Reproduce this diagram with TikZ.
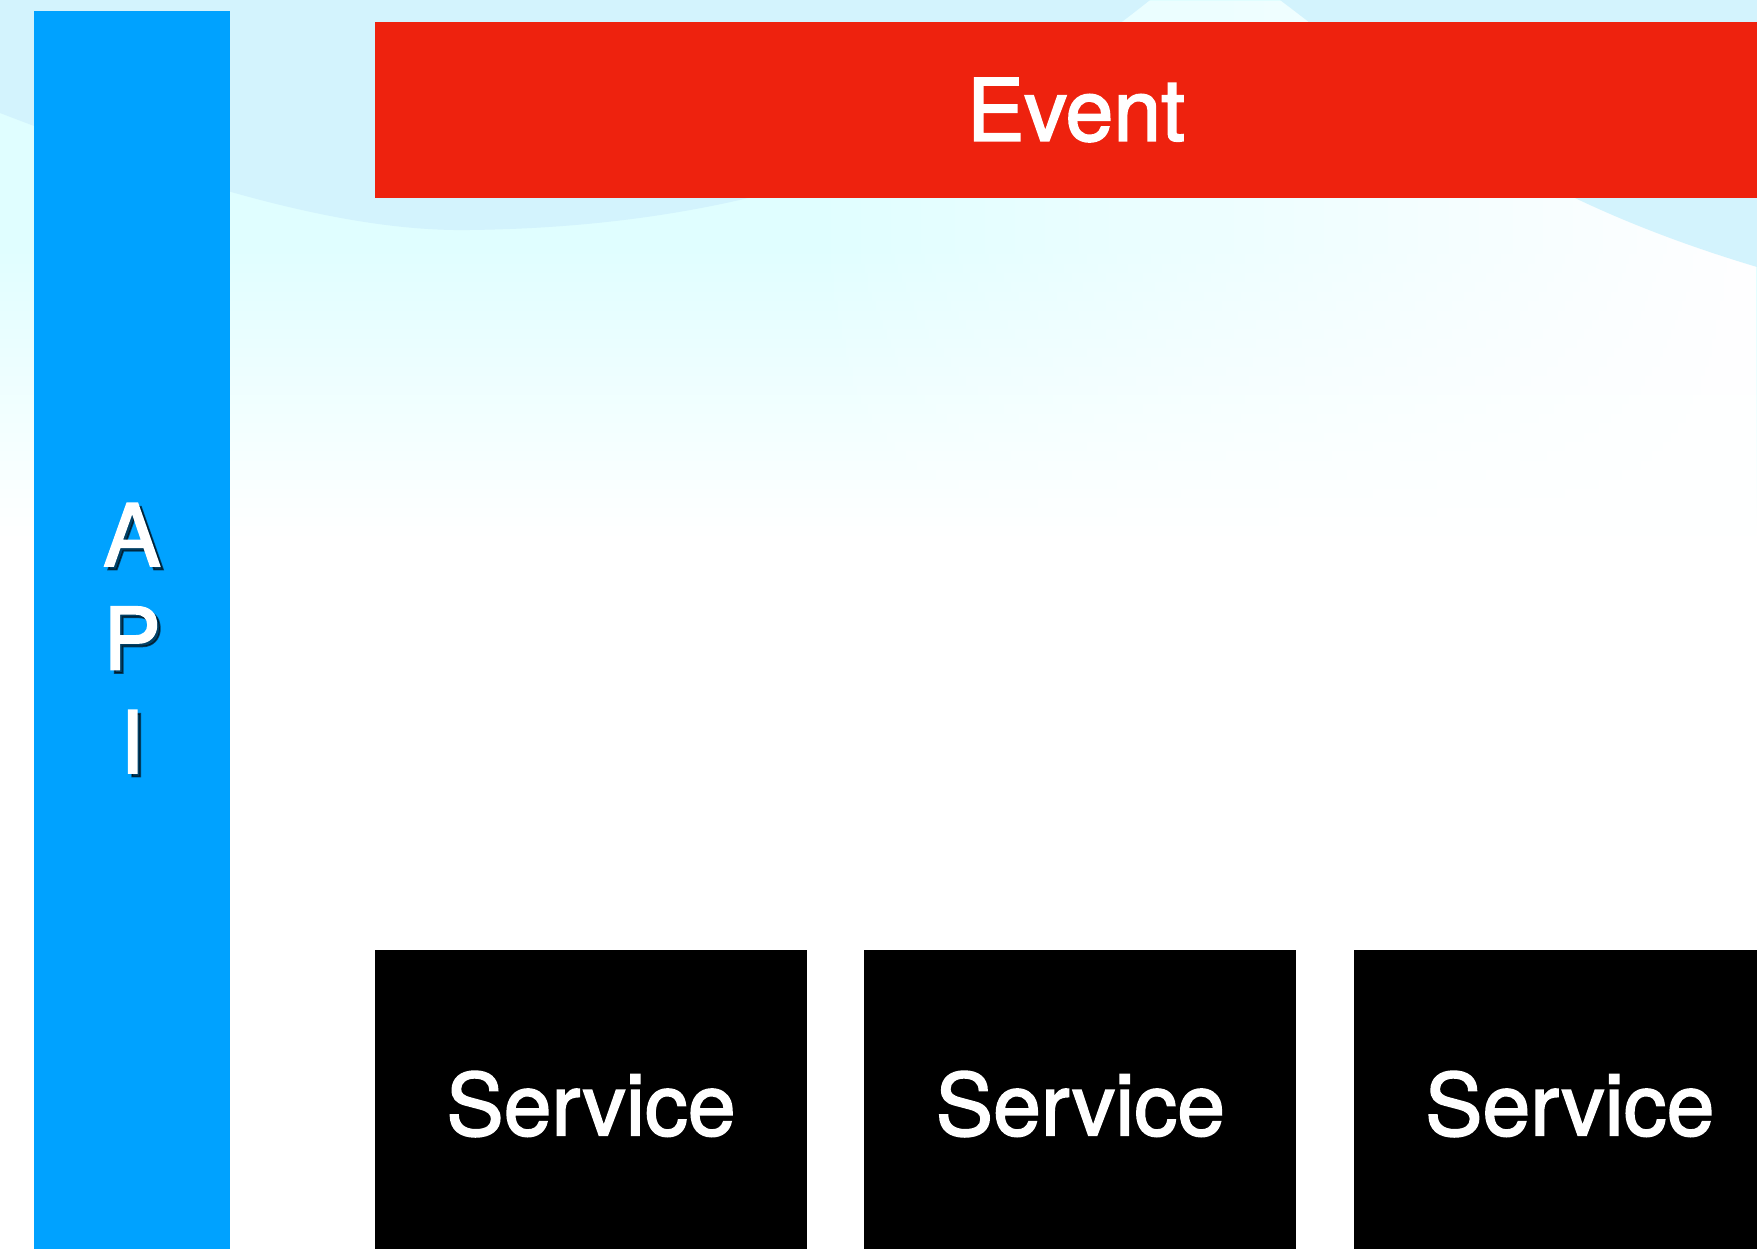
\documentclass[tikz,border=0pt]{standalone}
\usepackage{fontspec}
\setmainfont{TeX Gyre Heros}
\newfontfamily\heros[FakeBold=2]{TeX Gyre Heros}
\usetikzlibrary{positioning,fadings}
\definecolor{apiblue}{RGB}{0,162,255}
\definecolor{eventred}{RGB}{238,34,14}
\definecolor{skyband}{RGB}{211,243,253}
\definecolor{skylight}{RGB}{224,254,255}

\begin{document}
\begin{tikzpicture}[x=1pt, y=-1pt,
    bigtext/.style={font=\heros\fontsize{86}{105}\selectfont},
    box/.style={inner sep=0pt, text=white, bigtext},
    servicebox/.style={box, fill=black, minimum width=432pt, minimum height=308pt},
]
    \useasboundingbox (0,0) rectangle (1757,1249);
    \clip (0,0) rectangle (1757,1249);
    % sky in the back
    \fill[skylight] (0,0) rectangle (1757,250);
    \shade[top color=skylight, bottom color=white] (0,249) rectangle (1757,540);
    \fill[white, path fading=west] (800,0) rectangle (1757,540);
    \fill[skyband] (0,0) -- (0,113) .. controls (200,190) and (350,232) .. (470,230)
        .. controls (800,226) and (1000,120) .. (1150,0) -- cycle;
    \fill[skyband] (1280,0) .. controls (1400,90) and (1500,190) .. (1757,267) -- (1757,0) -- cycle;

    \node[box, fill=apiblue, minimum width=196pt, minimum height=1240pt] (api) at (132,631) {};
    \foreach \ch [count=\i] in {A,P,I} {
        \node[bigtext, anchor=base, text=black, opacity=0.6] (apishadow\i) at (135.5,{569.5+103.5*(\i-1)}) {\ch};
        \node[bigtext, anchor=base, text=white] (apiletter\i) at (132,{566+103.5*(\i-1)}) {\ch};
    }

    \node[box, fill=eventred, minimum width=1402pt, minimum height=176pt] (event) at (1076,110) {Event};

    \node[servicebox] (service1) at (591,1104) {Service};
    \node[servicebox, right=57pt of service1] (service2) {Service};
    \node[servicebox, right=57pt of service2] (service3) {Service};
\end{tikzpicture}
\end{document}
